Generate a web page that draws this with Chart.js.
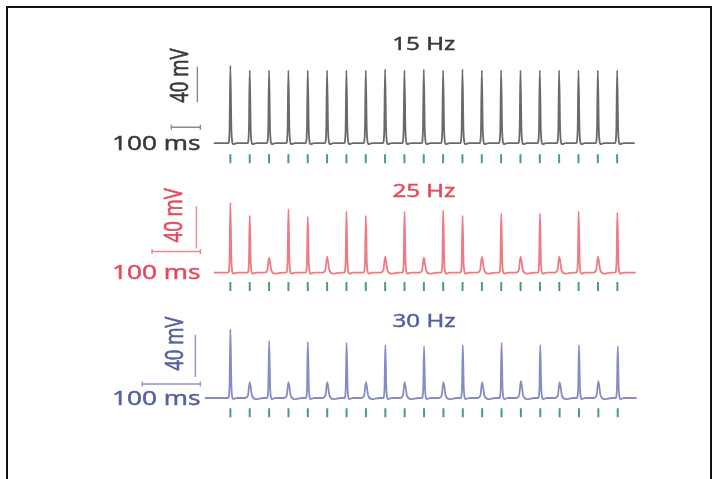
<!DOCTYPE html>
<html>
<head>
<meta charset="utf-8">
<script src="https://cdn.jsdelivr.net/npm/chart.js@4.4.1/dist/chart.umd.min.js"></script>
<style>
  html, body { margin: 0; padding: 0; background: #fff; }
  body { width: 717px; height: 479px; position: relative; overflow: hidden; }
  #frame { position: absolute; left: 6px; top: 6px; width: 706px; height: 500px; border: 2px solid #111; box-sizing: border-box; }
  .panel { position: absolute; left: 90px; }
  .panel canvas { display: block; }
</style>
</head>
<body>
<div id="frame"></div>
<div class="panel" style="top:30px"><canvas id="c0" width="570" height="148"></canvas></div>
<div class="panel" style="top:178px"><canvas id="c1" width="570" height="128"></canvas></div>
<div class="panel" style="top:306px"><canvas id="c2" width="570" height="130"></canvas></div>
<script>
// ---- data ----
const panelLabels = ['15 Hz', '25 Hz', '30 Hz'];

// stimulus times (ms)
const stimTimes15 = [0, 66.7, 133.3, 200, 266.7, 333.3, 400, 466.7, 533.3, 600, 666.7,
                     733.3, 800, 866.7, 933.3, 1000, 1066.7, 1133.3, 1200, 1266.7, 1333.3];
const stimTimes25 = [0, 40, 80, 120, 160, 200, 240, 280, 320, 360, 400,
                     440, 480, 520, 560, 600, 640, 680, 720, 760, 800];
const stimTimes30 = [0, 33.3, 66.7, 100, 133.3, 166.7, 200, 233.3, 266.7, 300, 333.3,
                     366.7, 400, 433.3, 466.7, 500, 533.3, 566.7, 600, 633.3, 666.7];

// response amplitude above rest for each stimulus (mV)
const peaks15 = [87, 82, 82, 82, 82, 82, 82, 82, 83, 82, 83, 82, 83, 82, 82, 82, 82, 82, 82, 82, 82];
const peaks25 = [66, 54, 14, 60, 53, 15, 58, 54, 15, 58, 14, 59, 54, 15, 56, 15, 56, 15, 58, 15, 57];
const peaks30 = [65, 15, 54, 15, 53, 15, 52, 15, 50, 15, 49, 15, 50, 15, 52, 16, 50, 15, 50, 16, 49];

// recording window (ms)
const traceStart = [-57, -34, -44];
const traceEnd = [1394, 838, 699];

// scale bars
const SCALE_MV = 40;
const SCALE_MS = 100;
const scaleLabels = ['40 mV', '100 ms'];

// ---- layout / style ----
const LEFT = 90, WIDTH = 570, FIRST_X = 227, STEP_PX = 19.8;
const TEXT_STRETCH = 1.34;
const STIM_COLOR = '#45a077';

const layouts = [
  { height: 148, base: 117, mvPerPx: 40 / 39, trace: '#6a6a6a', text: '#383838', bar: '#8a8a8a',
    titleDy: -98, hBarDy: -16, vBarDx: -33, vBarDy: -41, mvTextDx: -16, stimDy: 17 },
  { height: 128, base: 98, mvPerPx: 40 / 47, trace: '#ee7a84', text: '#e5495d', bar: '#ea8a92',
    titleDy: -81, hBarDy: -21, vBarDx: -34, vBarDy: -24, mvTextDx: -21, stimDy: 15.5 },
  { height: 130, base: 95, mvPerPx: 40 / 47, trace: '#858cc4', text: '#5560a0', bar: '#8f95c6',
    titleDy: -76, hBarDy: -14, vBarDx: -35, vBarDy: -21, mvTextDx: -19, stimDy: 16.5 }
];

const allStims = [stimTimes15, stimTimes25, stimTimes30];
const allPeaks = [peaks15, peaks25, peaks30];

// spike waveform points around each stimulus
function buildTrace(stims, peaks, t0, t1, msPerPx) {
  const pts = [{ x: t0, y: 0 }];
  stims.forEach((t, i) => {
    const a = peaks[i];
    const hw = (a > 30 ? 2.2 : 4.6) * msPerPx;
    pts.push({ x: t - hw, y: 0 });
    pts.push({ x: t - hw * 0.4, y: a * 0.15 });
    pts.push({ x: t, y: a });
    pts.push({ x: t + hw * 0.5, y: a * 0.15 });
    pts.push({ x: t + hw * 1.3, y: -1 });
    pts.push({ x: t + hw * 3, y: 0 });
  });
  pts.push({ x: t1, y: 0 });
  return pts;
}

function stretchedText(ctx, str, x, y, align, color, size, angle) {
  ctx.save();
  ctx.translate(x, y);
  ctx.scale(TEXT_STRETCH, 1);
  if (angle) ctx.rotate(angle);
  ctx.font = size + 'px "Open Sans", "DejaVu Sans", sans-serif';
  ctx.fillStyle = color;
  ctx.strokeStyle = color;
  ctx.lineWidth = 0.5;
  ctx.textAlign = align;
  ctx.textBaseline = 'middle';
  ctx.fillText(str, 0, 0);
  ctx.strokeText(str, 0, 0);
  ctx.restore();
}

// title, scale bars and their labels
const annotatePlugin = {
  id: 'annotate',
  afterDatasetsDraw(chart, args, o) {
    const { ctx, scales: { x, y } } = chart;
    const base = y.getPixelForValue(0);
    const first = x.getPixelForValue(o.stims[0]);
    const mid = x.getPixelForValue(o.stims[Math.floor(o.stims.length / 2)]);
    const msLen = x.getPixelForValue(SCALE_MS) - x.getPixelForValue(0);
    const mvLen = y.getPixelForValue(0) - y.getPixelForValue(SCALE_MV);
    const L = o.layout;

    stretchedText(ctx, o.label, mid, base + L.titleDy, 'center', L.text, 18);

    ctx.save();
    ctx.strokeStyle = L.bar;
    ctx.lineWidth = 1.4;
    // time bar
    const hx1 = first - 30, hx0 = hx1 - msLen, hy = base + L.hBarDy;
    ctx.beginPath();
    ctx.moveTo(hx0, hy); ctx.lineTo(hx1, hy);
    ctx.moveTo(hx0, hy - 2.5); ctx.lineTo(hx0, hy + 2.5);
    ctx.moveTo(hx1, hy - 2.5); ctx.lineTo(hx1, hy + 2.5);
    ctx.stroke();
    // voltage bar
    const vx = first + L.vBarDx, vy1 = base + L.vBarDy, vy0 = vy1 - mvLen;
    ctx.beginPath();
    ctx.moveTo(vx, vy0); ctx.lineTo(vx, vy1);
    ctx.stroke();
    ctx.restore();

    stretchedText(ctx, scaleLabels[0], vx + L.mvTextDx, vy0 + 9, 'center', L.text, 18.5, -Math.PI / 2);
    stretchedText(ctx, scaleLabels[1], hx1, base + 1, 'right', L.text, 19.5);
  }
};

layouts.forEach((L, i) => {
  const stims = allStims[i];
  const msPerPx = (stims[1] - stims[0]) / STEP_PX;
  const xmin = stims[0] - (FIRST_X - LEFT) * msPerPx;
  const xmax = xmin + WIDTH * msPerPx;
  const ymax = L.base * L.mvPerPx;
  const ymin = -(L.height - L.base) * L.mvPerPx;
  const stimY = -L.stimDy * L.mvPerPx;

  new Chart(document.getElementById('c' + i), {
    data: {
      datasets: [
        {
          type: 'line',
          data: buildTrace(stims, allPeaks[i], traceStart[i], traceEnd[i], msPerPx),
          borderColor: L.trace,
          borderWidth: 1.8,
          pointRadius: 0,
          cubicInterpolationMode: 'monotone'
        },
        {
          type: 'scatter',
          data: stims.map(t => ({ x: t, y: stimY })),
          pointStyle: 'line',
          rotation: 90,
          radius: 4.5,
          borderWidth: 2,
          borderColor: STIM_COLOR,
          backgroundColor: STIM_COLOR
        }
      ]
    },
    options: {
      responsive: false,
      animation: false,
      layout: { padding: 0 },
      scales: {
        x: { type: 'linear', min: xmin, max: xmax, display: false },
        y: { type: 'linear', min: ymin, max: ymax, display: false }
      },
      plugins: {
        legend: { display: false },
        tooltip: { enabled: false },
        annotate: { label: panelLabels[i], stims: stims, layout: L }
      }
    },
    plugins: [annotatePlugin]
  });
});
</script>
</body>
</html>
